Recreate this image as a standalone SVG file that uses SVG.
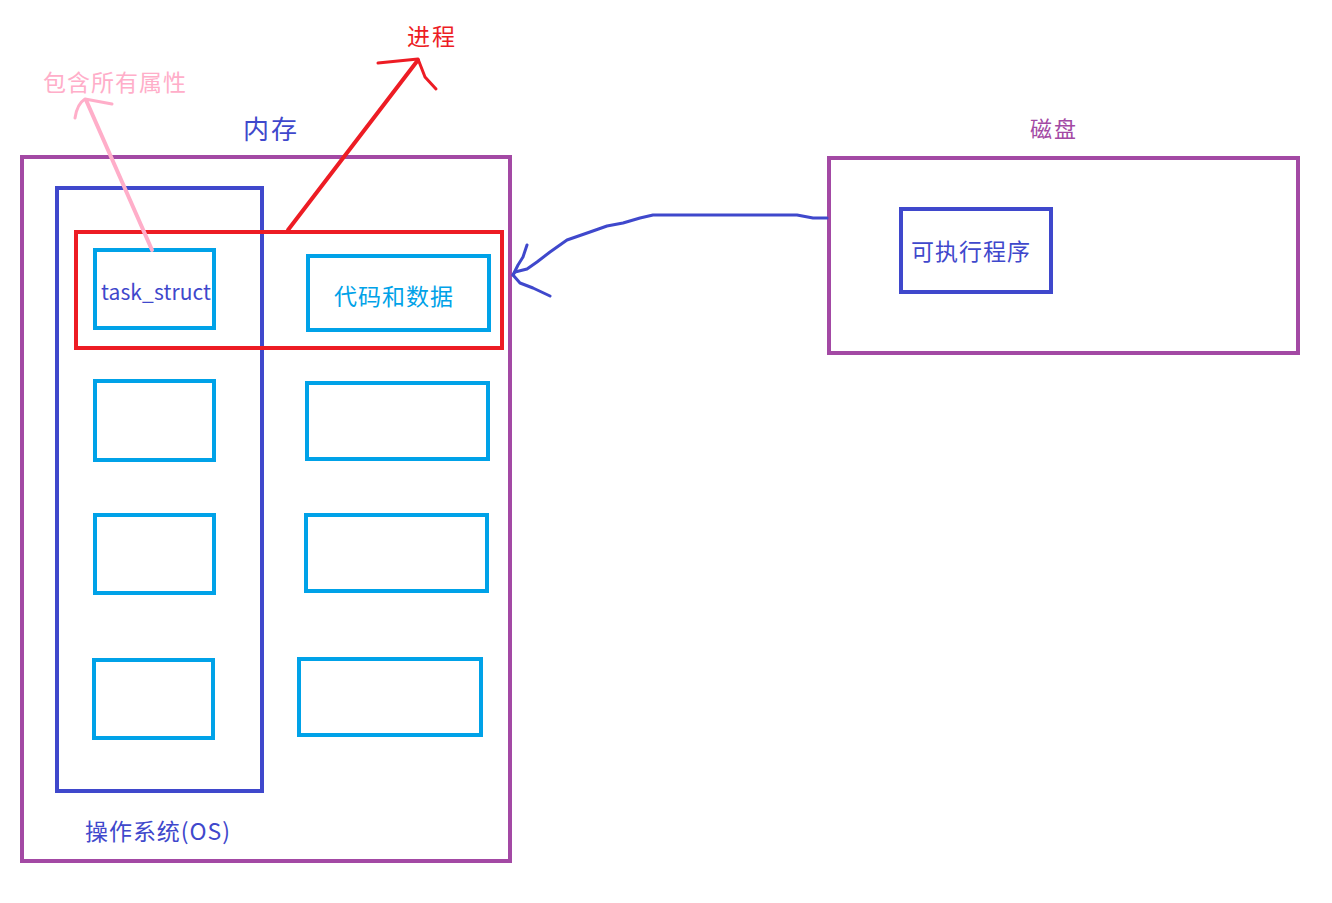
<svg xmlns="http://www.w3.org/2000/svg" width="1332" height="903" viewBox="0 0 1332 903">
<style>
.box{fill:none;stroke-width:4}
.purple{stroke:#A349A4}
.blue{stroke:#3F48CC}
.lblue{stroke:#00A2E8}
.red{stroke:#ED1C24}
text{font-family:"Noto Sans CJK SC","Noto Sans",sans-serif}
.conn{fill:none;stroke-linecap:round;stroke-linejoin:round}
</style>
<rect width="1332" height="903" fill="#fff"/>
<g id="memory">
<rect class="box purple" x="22" y="157" width="488" height="704"/>
<text x="243" y="139" font-size="26" fill="#3F48CC" textLength="54" lengthAdjust="spacing">内存</text>
</g>
<g id="os">
<rect class="box blue" x="57" y="188" width="205" height="603"/>
<text x="85" y="840" font-size="23" fill="#3F48CC" textLength="145" lengthAdjust="spacing">操作系统(OS)</text>
</g>
<g id="process">
<rect class="box red" x="76" y="232" width="426" height="116"/>
</g>
<g id="task_struct">
<rect class="box lblue" x="95" y="250" width="119" height="78"/>
<text x="101" y="300" font-size="21" fill="#3F48CC" textLength="110" lengthAdjust="spacing">task_struct</text>
</g>
<g id="code_data">
<rect class="box lblue" x="308" y="256" width="181" height="74"/>
<text x="334" y="305" font-size="23" fill="#00A2E8" textLength="119" lengthAdjust="spacing">代码和数据</text>
</g>
<g id="l2"><rect class="box lblue" x="95" y="381" width="119" height="79"/></g>
<g id="l3"><rect class="box lblue" x="95" y="515" width="119" height="78"/></g>
<g id="l4"><rect class="box lblue" x="94" y="660" width="119" height="78"/></g>
<g id="r2"><rect class="box lblue" x="307" y="383" width="181" height="76"/></g>
<g id="r3"><rect class="box lblue" x="306" y="515" width="181" height="76"/></g>
<g id="r4"><rect class="box lblue" x="299" y="659" width="182" height="76"/></g>
<g id="disk">
<rect class="box purple" x="829" y="158" width="469" height="195"/>
<text x="1030" y="137" font-size="22" fill="#A349A4" textLength="46" lengthAdjust="spacing">磁盘</text>
</g>
<g id="executable">
<rect class="box blue" x="901" y="209" width="150" height="83"/>
<text x="911" y="260" font-size="23" fill="#3F48CC" textLength="119" lengthAdjust="spacing">可执行程序</text>
</g>
<g id="label_process">
<text x="407" y="45" font-size="23" fill="#ED1C24" textLength="48" lengthAdjust="spacing">进程</text>
</g>
<g id="label_attrs">
<text x="43" y="91" font-size="23" fill="#FFAEC9" textLength="143" lengthAdjust="spacing">包含所有属性</text>
</g>
<g id="connectors">
<path class="conn" stroke="#ED1C24" stroke-width="4" d="M288 230 L418 60"/>
<path class="conn" stroke="#ED1C24" stroke-width="3" d="M378 63 L418 59 L425 77 L436 89"/>
<path class="conn" stroke="#FFAEC9" stroke-width="4" d="M152 250 L86 100"/>
<path class="conn" stroke="#FFAEC9" stroke-width="3" d="M75 118 Q77 104 85 99 L112 104"/>
<path class="conn" stroke="#3F48CC" stroke-width="3" d="M827 218 L813 218 L797 215 L653 215 L640 218 L623 223 L607 226 L590 232 L567 240 L550 252 L537 262 L527 269 L515 272 L513 275"/>
<path class="conn" stroke="#3F48CC" stroke-width="3" d="M527 245 L523 257 L518 265 L513 275 L520 283 L533 288 L550 296"/>
</g>
</svg>
